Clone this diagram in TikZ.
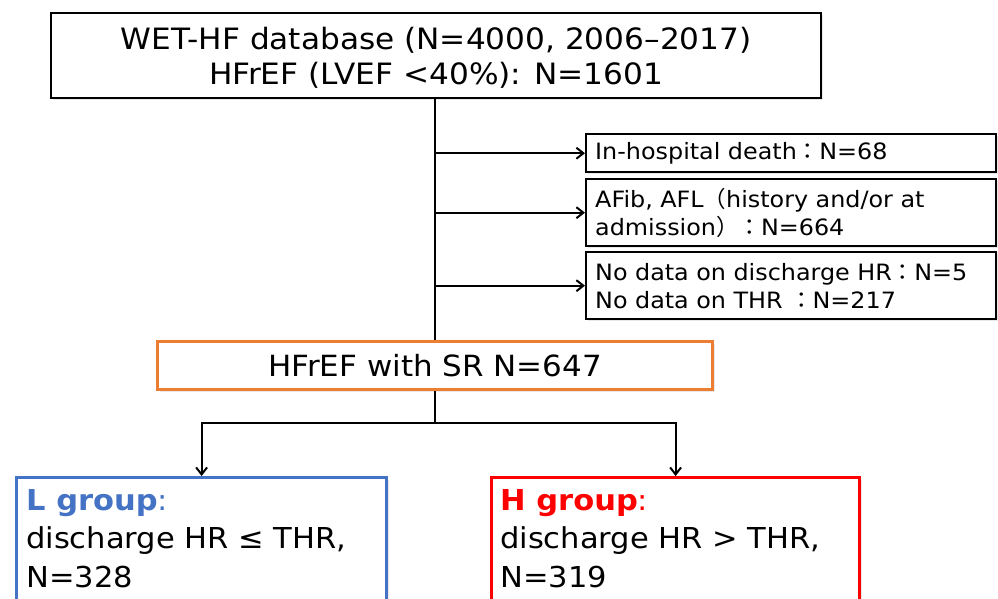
\documentclass[tikz,border=0pt]{standalone}
\usepackage{fontspec}
\setmainfont[FakeStretch=1.06]{DejaVu Sans}
\newfontfamily\cjk{Noto Sans CJK JP}
\usetikzlibrary{arrows.meta,shadows}
\definecolor{lblue}{HTML}{4472C4}
\definecolor{sorange}{HTML}{ED7D31}
\definecolor{hred}{HTML}{FF0000}
\tikzset{
  boxshadow/.style={drop shadow={shadow xshift=2pt,shadow yshift=-2pt,opacity=0.18}},
  mainbox/.style={draw=black,line width=2.4pt,fill=white,boxshadow,anchor=north west,inner sep=0pt},
  sidebox/.style={draw=black,line width=2.4pt,fill=white,boxshadow,anchor=north west,
    inner xsep=9pt,inner ysep=0pt,align=left,font=\fontsize{22.5}{28}\selectfont},
  srbox/.style={draw=sorange,line width=3.2pt,fill=white,boxshadow,anchor=north west,inner sep=0pt,
    font=\fontsize{29.2}{35}\selectfont},
  groupbox/.style={line width=3.2pt,fill=white,anchor=north west,inner sep=0pt},
  grouptext/.style={anchor=base west,inner sep=0pt,font=\fontsize{28.8}{38}\selectfont},
  conn/.style={line width=2.2pt,draw=black},
  tip/.style={-{Straight Barb[length=7pt,width=11pt,line width=2pt]}},
}
\begin{document}
\begin{tikzpicture}[x=1pt,y=-1pt]
  \useasboundingbox (0,0) rectangle (998,598);
  \fill[white] (0,0) rectangle (998,598);

  % source database
  \node[mainbox,minimum width=770pt,minimum height=85pt] (db) at (50,12) {};
  \node[align=center,inner sep=0pt,font=\fontsize{29.4}{35}\selectfont] (dbtext)
        at ([yshift=-2.5pt]db.center)
        {WET-HF database (N=4000, 2006–2017)\\HFrEF (LVEF <40\%): N=1601};

  % exclusions
  \node[sidebox,text width=392pt,minimum height=38pt] (ex1) at (585,133)
        {In-hospital death{\cjk ：}N=68};
  \node[sidebox,text width=392pt,minimum height=67pt] (ex2) at (585,178)
        {AFib, AFL{\cjk （}history and/or at\\admission{\cjk ）：}N=664};
  \node[sidebox,text width=392pt,minimum height=67pt] (ex3) at (585,251)
        {No data on discharge HR{\cjk ：}N=5\\No data on THR {\cjk ：}N=217};

  % sinus rhythm cohort
  \node[srbox,minimum width=555pt,minimum height=48pt] (sr) at (156,340)
        {HFrEF with SR N=647};

  % groups
  \node[groupbox,draw=lblue,boxshadow,minimum width=370pt,minimum height=160pt] (lg) at (15,476) {};
  \node[groupbox,draw=hred,boxshadow,minimum width=368pt,minimum height=160pt] (hg) at (490,476) {};
  \node[grouptext,text=lblue] (l1) at (26,510) {\bfseries L group\mdseries:};
  \node[grouptext] (l2) at (26,548) {discharge HR ≤ THR,};
  \node[grouptext] (l3) at (26,587) {N=328};
  \node[grouptext,text=hred] (h1) at (500,510) {\bfseries H group\mdseries:};
  \node[grouptext] (h2) at (500,548) {discharge HR > THR,};
  \node[grouptext] (h3) at (500,587) {N=319};

  % connectors
  \draw[conn] (sr.north |- db.south) -- (sr.north);
  \draw[conn,tip] (sr.north |- ex1.west) -- (ex1.west);
  \draw[conn,tip] (sr.north |- ex2.west) -- (ex2.west);
  \draw[conn,tip] (sr.north |- ex3.west) -- (ex3.west);
  \coordinate (split) at ([yshift=-32pt]sr.south);
  \draw[conn] (sr.south) -- (split);
  \draw[conn,tip] (split) -| (lg.north);
  \draw[conn,tip] (split) -| (hg.north);
\end{tikzpicture}
\end{document}
